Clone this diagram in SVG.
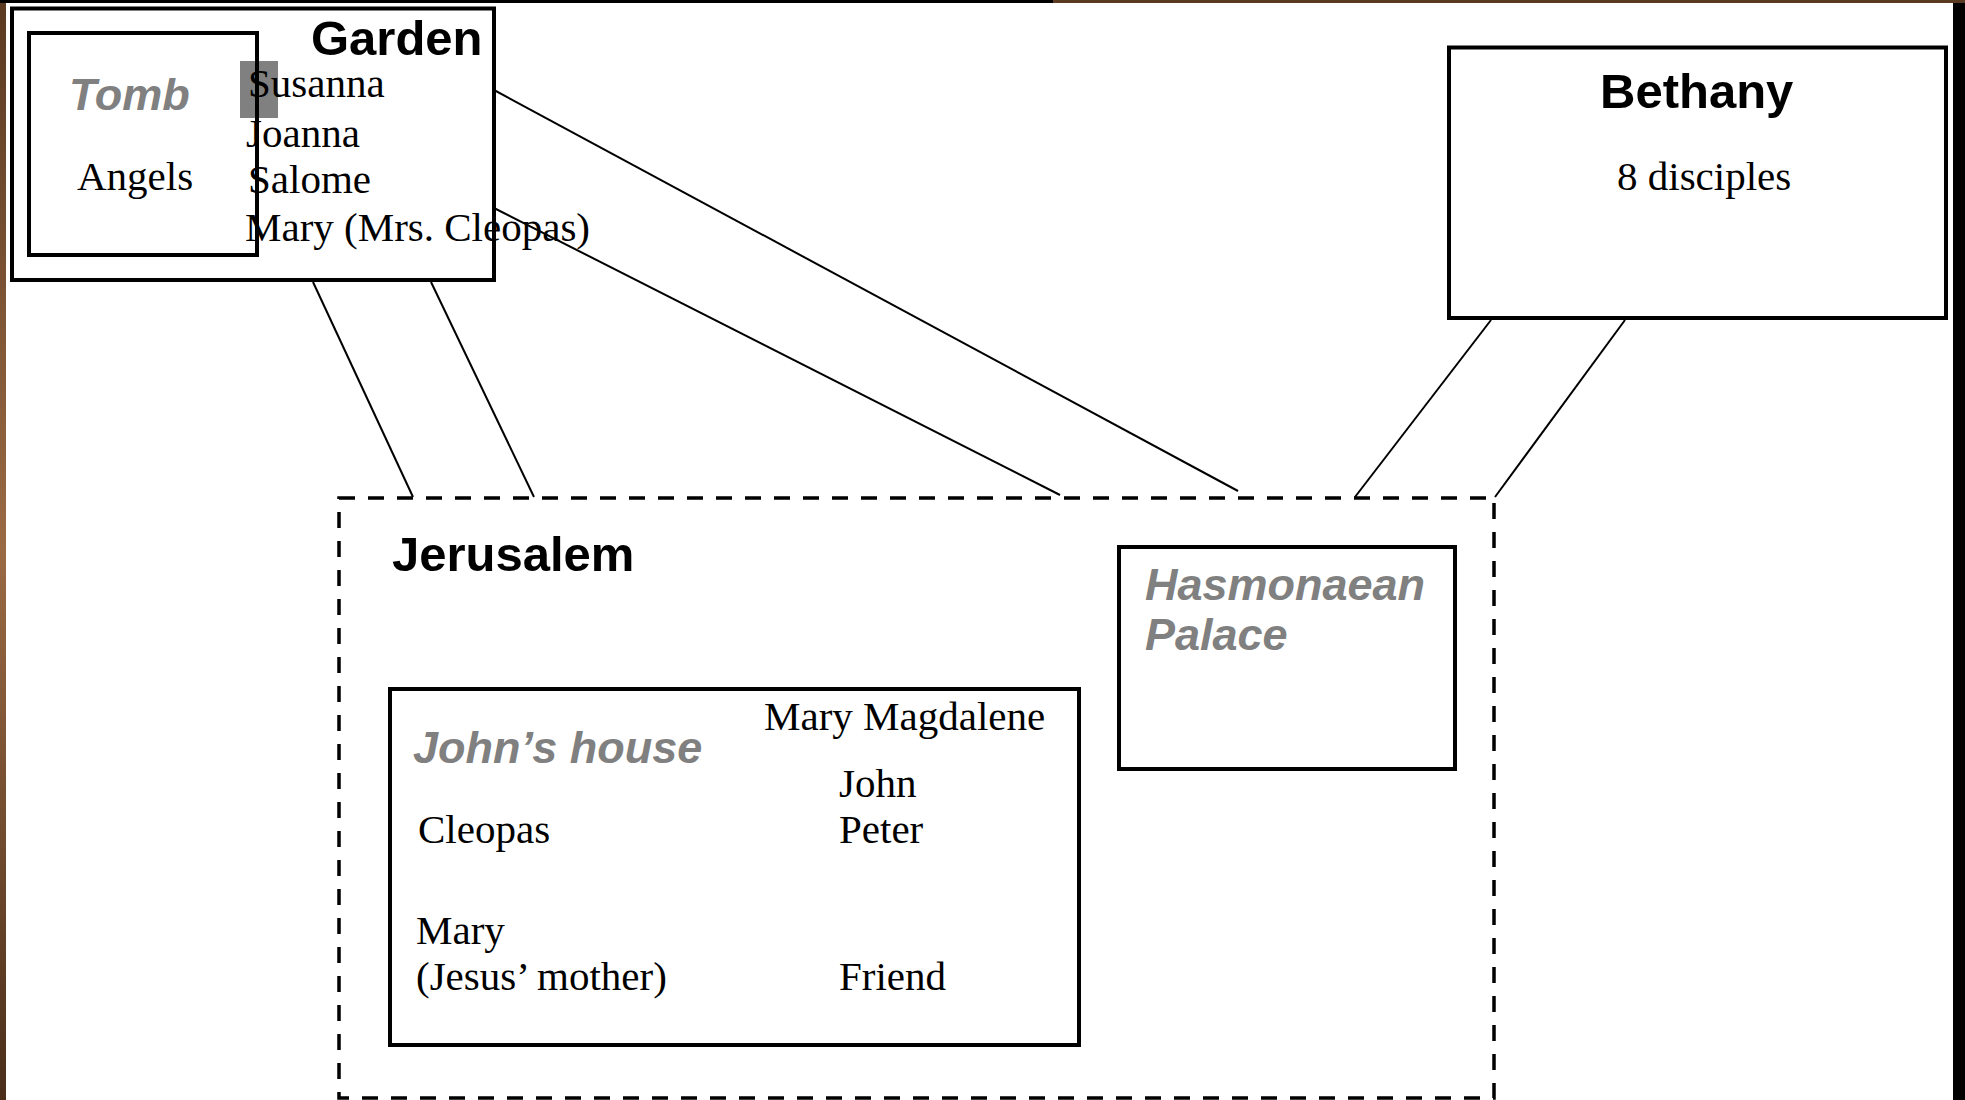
<svg xmlns="http://www.w3.org/2000/svg" width="1965" height="1100" viewBox="0 0 1965 1100">
<style>
.box{fill:none;stroke:#000;stroke-width:4}
.dash{fill:none;stroke:#000;stroke-width:3.5;stroke-dasharray:16 13}
.title{font-family:"Liberation Sans",Arial,sans-serif;font-weight:bold;font-size:49px;fill:#000}
.place{font-family:"Liberation Sans",Arial,sans-serif;font-weight:bold;font-style:italic;font-size:45px;fill:#808080}
.name{font-family:"Liberation Serif","Times New Roman",serif;font-size:41px;fill:#000}
.conn{stroke:#000;stroke-width:2;fill:none}
</style>
<defs>
<linearGradient id="wood" x1="0" y1="0" x2="0" y2="1">
<stop offset="0" stop-color="#5a3a22"/>
<stop offset="0.5" stop-color="#9a6a44"/>
<stop offset="1" stop-color="#4a2e1a"/>
</linearGradient>
</defs>
<g id="background">
<rect x="0" y="0" width="1965" height="1100" fill="url(#wood)"/>
<rect x="6" y="3" width="1947" height="1097" fill="#fff"/>
<rect x="0" y="0" width="1053" height="3" fill="#000"/>
<rect x="1953" y="3" width="12" height="1097" fill="#000"/>
</g>
<g id="connectors">
<line class="conn" x1="494" y1="90" x2="1238" y2="491"/>
<line class="conn" x1="494" y1="208" x2="1060" y2="495"/>
<line class="conn" x1="313" y1="282" x2="413" y2="497"/>
<line class="conn" x1="431" y1="282" x2="534" y2="497"/>
<line class="conn" x1="1491" y1="320" x2="1355" y2="497"/>
<line class="conn" x1="1625" y1="320" x2="1495" y2="497"/>
</g>
<g id="garden">
<rect class="box" x="12" y="8.5" width="482" height="271.5"/>
<text class="title" x="311" y="55">Garden</text>
<rect x="240" y="61" width="38" height="57" fill="#808080"/>
<text class="name" x="248" y="97">Susanna</text>
<text class="name" x="246" y="147">Joanna</text>
<text class="name" x="248" y="193">Salome</text>
<text class="name" x="245" y="241">Mary (Mrs. Cleopas)</text>
</g>
<g id="tomb">
<rect class="box" x="29" y="33" width="228" height="222"/>
<text class="place" x="69" y="110">Tomb</text>
<text class="name" x="77" y="190">Angels</text>
</g>
<g id="bethany">
<rect class="box" x="1449" y="47.5" width="497" height="270.5"/>
<text class="title" x="1600" y="108">Bethany</text>
<text class="name" x="1617" y="190">8 disciples</text>
</g>
<g id="jerusalem">
<rect class="dash" x="339" y="498" width="1155" height="600"/>
<text class="title" x="392" y="571">Jerusalem</text>
</g>
<g id="hasmonaean-palace">
<rect class="box" x="1119" y="547" width="336" height="222"/>
<text class="place" x="1145" y="600">Hasmonaean</text>
<text class="place" x="1145" y="650">Palace</text>
</g>
<g id="johns-house">
<rect class="box" x="390" y="689" width="689" height="356"/>
<text class="place" x="413" y="763">John’s house</text>
<text class="name" x="764" y="730">Mary Magdalene</text>
<text class="name" x="839" y="797">John</text>
<text class="name" x="839" y="843">Peter</text>
<text class="name" x="418" y="843">Cleopas</text>
<text class="name" x="416" y="944">Mary</text>
<text class="name" x="416" y="990">(Jesus’ mother)</text>
<text class="name" x="839" y="990">Friend</text>
</g>
</svg>
